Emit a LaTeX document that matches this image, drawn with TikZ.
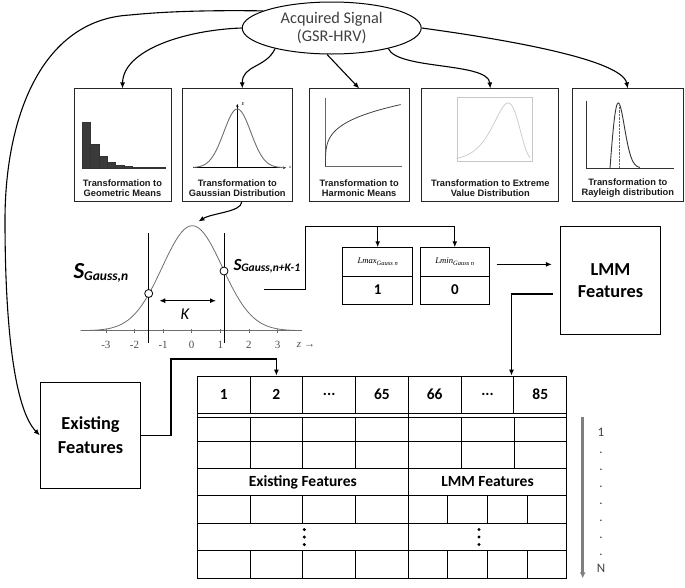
\documentclass[tikz,border=0pt]{standalone}
\usepackage{fontspec}
\setmainfont{Carlito}
\newfontfamily\arialfont{Liberation Sans}
\newfontfamily\timesfont{Liberation Serif}
\usepackage{tikz}
\usetikzlibrary{positioning}
\usetikzlibrary{arrows.meta}
\usetikzlibrary{shapes.geometric}
\definecolor{txtgray}{HTML}{404040}
\definecolor{curvegray}{HTML}{6E6E6E}
\definecolor{palegray}{HTML}{C8C8C8}
\definecolor{bargray}{HTML}{3A3A3A}
\definecolor{rowgray}{HTML}{7F7F7F}
\newcommand*{\sgauss}[4]{{\bfseries\itshape\fontsize{#1}{#1}\selectfont S\fontsize{#2}{#2}\selectfont\raisebox{#3}{Gauss,#4}}}
\newcommand*{\lcell}[1]{{\timesfont\itshape\fontsize{8.6}{9}\selectfont #1\raisebox{-2pt}{\fontsize{6.5}{7}\selectfont Gauss n}}}

\begin{document}
\begin{tikzpicture}[x=1pt,y=-1pt,>={Latex[length=6pt,width=5pt]},line width=1pt]
        \tikzset{topbox/.style={draw=black!85,line width=1pt,inner sep=0pt,minimum height=112.7pt},
                 caption/.style={align=center,inner sep=0pt,text=black!90,font=\arialfont\bfseries\fontsize{9.3}{10.3}\selectfont},
                 bigbox/.style={draw,line width=0.9pt,align=center,inner sep=0pt,font=\bfseries\fontsize{18.3}{21.7}\selectfont},
                 cell/.style={draw,line width=0.9pt,inner sep=0pt},
                 hcell/.style={cell,minimum width=52.8pt,minimum height=37.3pt,font=\bfseries\fontsize{15.5}{16}\selectfont},
                 valcell/.style={cell,minimum height=28pt,font=\bfseries\fontsize{15}{15}\selectfont},
                 rowlab/.style={inner sep=0pt,font=\bfseries\fontsize{15.5}{16}\selectfont},
                 ticklab/.style={inner sep=0pt,text=black!70,font=\timesfont\fontsize{11}{11}\selectfont},
                 idx/.style={inner sep=0pt,text=txtgray,font=\fontsize{13}{13}\selectfont},
                 point/.style={circle,draw,fill=white,line width=0.8pt,minimum size=8pt,inner sep=0pt},
                 flow/.style={->,line width=1.1pt}}

        \useasboundingbox (0,0) rectangle (685,587);

        % signal and the five transformations
        \node[ellipse,draw,line width=1pt,minimum width=179pt,minimum height=52pt,inner sep=0pt,
              align=center,text=txtgray,font=\fontsize{16.3}{18.5}\selectfont] (sig) at (331.7,28) {Acquired Signal\\(GSR-HRV)};

        \node[topbox,minimum width=97pt]    (geo) at (122.5,145.3) {};
        \node[topbox,minimum width=110pt]   (gau) at (237.3,145.3) {};
        \node[topbox,minimum width=100.3pt] (har) at (359.2,145.3) {};
        \node[topbox,minimum width=137.3pt] (ext) at (490.3,145.3) {};
        \node[topbox,minimum width=111pt]   (ray) at (627.8,145.3) {};

        \node[caption] (geoC) at (122.5,188) {Transformation to\\Geometric Means};
        \node[caption] (gauC) at (237.3,188) {Transformation to\\Gaussian Distribution};
        \node[caption] (harC) at (359.2,188) {Transformation to\\Harmonic Means};
        \node[caption] (extC) at (490.3,188) {Transformation to Extreme\\Value Distribution};
        \node[caption] (rayC) at (627.8,188) {Transformation to\\Rayleigh distribution};

        % thumbnails
        \foreach \xa/\ya in {82.3/121.7,90.6/144.3,98.9/155.7,107.2/162.3,115.5/164.7,123.8/166,132.1/166.7,140.4/167.1,148.7/167.3,157/167.5}
            \filldraw[fill=bargray,draw=black!80,line width=0.3pt] (\xa,\ya) rectangle ({\xa+8.3},167.7);

        \draw[line width=0.5pt,-{Stealth[length=3pt,width=2.5pt]}] (193.3,167.7) -- (286,167.7);
        \draw[line width=0.5pt,-{Stealth[length=3pt,width=2.5pt]}] (237.3,167.7) -- (237.3,104);
        \draw[curvegray,line width=0.9pt,domain=-3.25:3.5,samples=60] plot ({237.3+13.5*\x},{167.7-58.7*exp(-\x*\x/2)});
        \node[inner sep=0pt,font=\timesfont\itshape\fontsize{4.5}{5}\selectfont] (gauE) at (243,104) {E};
        \node[inner sep=0pt,font=\timesfont\itshape\fontsize{4.5}{5}\selectfont] (gaux) at (290,167.5) {x};

        \draw[black!60,line width=0.4pt] (325,98) -- (325,166.3) -- (401.7,166.3);
        \draw[black!75,line width=0.8pt,domain=0.001:3.215,samples=50] plot ({325.5+(\x)^3.7},{166.3-19.2*\x});

        \draw[palegray,line width=0.4pt] (456.7,97.3) rectangle (531.7,161.3);
        \draw[palegray,line width=0.7pt,domain=-4:1.7,samples=70] plot ({508.1+12.86*\x},{161.3-158.4*exp(\x-exp(\x))});

        \draw[black!80,line width=0.6pt] (586.7,100.7) -- (586.7,168) -- (674.3,168);
        \draw[black!80,line width=0.9pt,domain=0:3.6,samples=50] plot ({610+8.3*\x},{168-107.2*\x*exp(-\x*\x/2)});
        \draw[black!60,line width=0.4pt,densely dotted] (619,104) -- (619,168);

        % arrows out of the signal
        \draw[flow] (sig.west) .. controls (185,30) and (123,50) .. (geo.north);
        \draw[flow] (sig.-160) .. controls (266,68) and (242,65) .. ([xshift=5pt]gau.north);
        \draw[flow] (sig.-100) -- (har.north);
        \draw[flow] (sig.-20) .. controls (398,70) and (488,62) .. (ext.north);
        \draw[flow] (sig.east) .. controls (510,40) and (622,60) .. (ray.north);

        % gaussian window
        \draw[flow] ([xshift=4.4pt]gau.south) .. controls (241,212) and (212,213) .. (198.5,221.5);
        \draw[curvegray,line width=0.7pt] (80.7,330.7) -- (301.7,330.7);
        \foreach \z in {-3,...,3} {
            \draw[curvegray,line width=0.5pt] ({191.7+28.6*\z},329.2) -- ({191.7+28.6*\z},332.5);
            \node[ticklab] at ({191.7+28.6*\z},345) {\z};
        }
        \node[ticklab] (zlab) at (306,345) {\itshape z \upshape→};
        \draw[curvegray,line width=0.8pt,domain=-3.72:3.65,samples=80] plot ({192.3+30*\x},{330.7-105*exp(-\x*\x/2)});
        \draw[line width=0.9pt] (148.7,233.3) -- (148.7,343.3);
        \draw[line width=0.9pt] (224,233.3) -- (224,343.3);
        \node[point] (pn) at (148.7,293.5) {};
        \node[point] (pk) at (224,271) {};
        \coordinate (kl) at (159.3,300.7);
        \coordinate (kr) at (216,300.7);
        \draw[<->,line width=1.1pt] (kl) -- (kr);
        \node[font=\itshape\fontsize{16.5}{17}\selectfont] (klab) at (185,314) {K};
        \node[anchor=base west,inner sep=0pt] (sn) at (73,278.3) {\sgauss{23}{13.5}{-2.4pt}{n}};
        \node[anchor=base west,inner sep=0pt] (snk) at (233,270) {\sgauss{17}{11.5}{-1pt}{n+K-1}};

        % local maxima / minima
        \node[cell,minimum width=70pt,minimum height=28.3pt] (lmax) at (377.7,261.85) {\lcell{Lmax}};
        \node[valcell,minimum width=70pt] (lmaxv) at (377.7,290) {1};
        \node[cell,minimum width=69pt,minimum height=28.3pt] (lmin) at (454.8,261.85) {\lcell{Lmin}};
        \node[valcell,minimum width=69pt] (lminv) at (454.8,290) {0};
        \coordinate (bus0) at (264,289.3);
        \coordinate (busT) at (305.3,226.7);
        \draw[flow] (bus0) -| (busT) -| (lmin.north);
        \draw[flow] (busT -| lmax.north) -- (lmax.north);

        \node[bigbox,minimum width=100.4pt,minimum height=107.3pt] (lmm) at (610.5,280.3) {LMM\\Features};
        \coordinate (lmmin) at ([yshift=-2.5pt]lmin.east);
        \draw[flow,shorten <=7pt,shorten >=8pt] (lmmin) -- (lmmin -| lmm.west);

        \node[bigbox,minimum width=100.5pt,minimum height=106pt,font=\bfseries\fontsize{18.3}{23.7}\selectfont] (egx) at (90.5,435.3) {Existing\\Features};
        \draw[flow] (sig.166) .. controls (200,10) and (160,12) .. (130,15)
                    .. controls (40,20) and (5,120) .. (5,220)
                    .. controls (5,330) and (15,410) .. (egx.west);

        % feature table
        \node[hcell] (h1) at (223.7,394.65) {1};
        \node[hcell] (h2) at (276.4,394.65) {2};
        \node[hcell] (h3) at (329.2,394.65) {...};
        \node[hcell] (h4) at (381.9,394.65) {65};
        \node[hcell] (h5) at (434.7,394.65) {66};
        \node[hcell] (h6) at (487.5,394.65) {...};
        \node[hcell] (h7) at (540.3,394.65) {85};

        \draw[flow] (egx.east) -| (171,359) -| (h2.north);
        \draw[flow,shorten <=7pt] ([yshift=-13.7pt]lmm.west) -| ([xshift=24pt]h6.north);

        \draw[line width=0.9pt] (197.3,376) rectangle (566.7,578.3);
        \draw[line width=0.9pt] (197.3,417.7) -- (566.7,417.7);
        \foreach \ya in {441,468.3,495.7,523.3,550.7}
            \draw[line width=0.9pt] (197.3,\ya) -- (566.7,\ya);
        \foreach \xa in {250,302.7,355.7,461,514}
            \draw[line width=0.9pt] (\xa,417.7) -- (\xa,468.3);
        \draw[line width=0.9pt] (408.3,376) -- (408.3,578.3);
        \foreach \xa in {250,302.7,355.7,447.7,487.3,527} {
            \draw[line width=0.9pt] (\xa,495.7) -- (\xa,523.3);
            \draw[line width=0.9pt] (\xa,550.7) -- (\xa,578.3);
        }
        \node[rowlab] (exlab) at (302.8,482) {Existing Features};
        \node[rowlab] (lmlab) at (487.5,482) {LMM Features};
        \foreach \ya in {529.5,537,544.5} {
            \fill (304.3,\ya) circle (1.7pt);
            \fill (479,\ya) circle (1.7pt);
        }

        % sample index
        \coordinate (rtop) at (582.7,416.7);
        \coordinate (rbot) at (582.7,578.3);
        \draw[rowgray,line width=2.6pt,-{Latex[length=6pt,width=6pt]}] (rtop) -- (rbot);
        \node[idx] (i1) at (601,432.7) {1};
        \foreach \k in {1,...,7}
            \node[idx,anchor=base] at (601,{437+16.9*\k}) {.};
        \node[idx] (iN) at (601,568) {N};
    \end{tikzpicture}
\end{document}
